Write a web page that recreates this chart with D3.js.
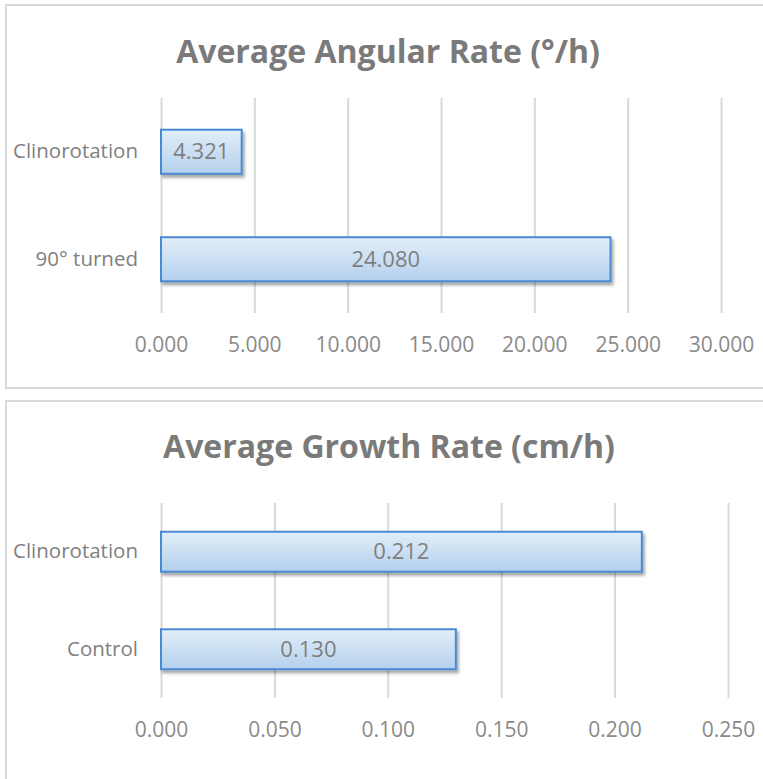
<!DOCTYPE html>
<html>
<head>
<meta charset="utf-8">
<script src="https://cdn.jsdelivr.net/npm/d3@7"></script>
<style>
  html, body { margin: 0; padding: 0; background: #ffffff; }
  svg { display: block; }
  text { font-family: "Open Sans", "Noto Sans", sans-serif; }
</style>
</head>
<body>
<svg id="chart" width="763" height="779"></svg>
<script>
// Average angular rate (°/h)
const angularTitle = "Average Angular Rate (°/h)";
const angularCategories = ["Clinorotation", "90° turned"];
const angularValues = [4.321, 24.080];
const angularTicks = [0, 5, 10, 15, 20, 25, 30];

// Average growth rate (cm/h)
const growthTitle = "Average Growth Rate (cm/h)";
const growthCategories = ["Clinorotation", "Control"];
const growthValues = [0.212, 0.130];
const growthTicks = [0, 0.05, 0.10, 0.15, 0.20, 0.25];

const svg = d3.select("#chart");
const fmt = d3.format(".3f");

// shared defs: bar gradient and soft drop shadow
const defs = svg.append("defs");
const grad = defs.append("linearGradient")
  .attr("id", "barFill").attr("x1", 0).attr("y1", 0).attr("x2", 0).attr("y2", 1);
grad.append("stop").attr("offset", "0%").attr("stop-color", "#e3eef9");
grad.append("stop").attr("offset", "100%").attr("stop-color", "#b3d0ed");
const shadow = defs.append("filter").attr("id", "barShadow")
  .attr("x", "-5%").attr("y", "-20%").attr("width", "115%").attr("height", "160%");
shadow.append("feDropShadow")
  .attr("dx", 2).attr("dy", 3).attr("stdDeviation", 1.8)
  .attr("flood-color", "#000").attr("flood-opacity", 0.35);

const panels = [
  {
    title: angularTitle, categories: angularCategories, values: angularValues, ticks: angularTicks,
    box: { x: 6, y: 5, w: 780, h: 383 },
    titleY: 63, titleX: 388,
    xRange: [161, 721], yRange: [98, 313], tickLabelY: 345
  },
  {
    title: growthTitle, categories: growthCategories, values: growthValues, ticks: growthTicks,
    box: { x: 6, y: 401, w: 780, h: 400 },
    titleY: 458, titleX: 389,
    xRange: [161, 728], yRange: [503, 698], tickLabelY: 730
  }
];

panels.forEach(p => {
  const g = svg.append("g");

  // panel frame
  g.append("rect")
    .attr("x", p.box.x).attr("y", p.box.y)
    .attr("width", p.box.w).attr("height", p.box.h)
    .attr("fill", "#ffffff").attr("stroke", "#d9d9d9").attr("stroke-width", 2);

  // title
  g.append("text")
    .attr("x", p.titleX).attr("y", p.titleY)
    .attr("text-anchor", "middle")
    .attr("font-size", 32).attr("font-weight", 700)
    .attr("fill", "#7a7a7a")
    .text(p.title);

  const x = d3.scaleLinear().domain([p.ticks[0], p.ticks[p.ticks.length - 1]]).range(p.xRange);
  const y = d3.scaleBand().domain(p.categories).range(p.yRange)
    .paddingInner(0.59).paddingOuter(0.295);

  // value axis with vertical gridlines
  const gridH = p.yRange[1] - p.yRange[0];
  const xAxis = g.append("g")
    .attr("transform", `translate(0,${p.yRange[1]})`)
    .call(d3.axisBottom(x).tickValues(p.ticks).tickFormat(fmt).tickSize(-gridH));
  xAxis.select(".domain").remove();
  xAxis.selectAll(".tick line").attr("stroke", "#d9d9d9").attr("stroke-width", 2);
  xAxis.selectAll(".tick text")
    .attr("y", p.tickLabelY - p.yRange[1]).attr("dy", "0.35em")
    .attr("font-size", 21).attr("fill", "#8a8a8a")
    .style("font-family", "'Open Sans', sans-serif");

  // category axis
  const yAxis = g.append("g")
    .attr("transform", `translate(${p.xRange[0]},0)`)
    .call(d3.axisLeft(y).tickSize(0).tickPadding(23));
  yAxis.select(".domain").remove();
  yAxis.selectAll(".tick text")
    .attr("font-size", 20.5).attr("fill", "#808080")
    .style("font-family", "'Open Sans', sans-serif");

  // bars
  const rows = p.categories.map((c, i) => ({ c, v: p.values[i] }));
  g.selectAll("rect.bar").data(rows).join("rect")
    .attr("class", "bar")
    .attr("x", x(0)).attr("y", d => y(d.c))
    .attr("width", d => x(d.v) - x(0)).attr("height", y.bandwidth())
    .attr("fill", "url(#barFill)")
    .attr("stroke", "#4a8bd0").attr("stroke-width", 2)
    .attr("filter", "url(#barShadow)");

  // value labels centred inside bars
  g.selectAll("text.val").data(rows).join("text")
    .attr("class", "val")
    .attr("x", d => (x(0) + x(d.v)) / 2)
    .attr("y", d => y(d.c) + y.bandwidth() / 2)
    .attr("dy", "0.35em")
    .attr("text-anchor", "middle")
    .attr("font-size", 22).attr("fill", "#7f7f7f")
    .text(d => fmt(d.v));
});
</script>
</body>
</html>
